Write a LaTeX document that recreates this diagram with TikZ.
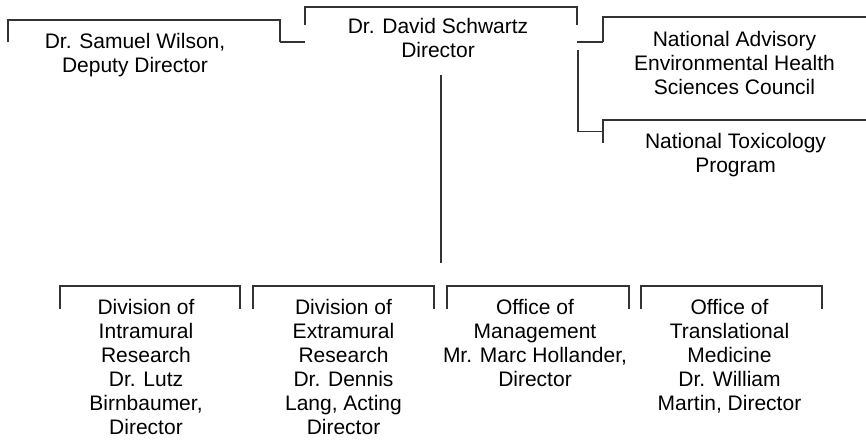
\documentclass[tikz,border=0pt]{standalone}
\usepackage{fontspec}
\setmainfont{Liberation Sans}
\usetikzlibrary{positioning}
\begin{document}
\begin{tikzpicture}[
        x=1pt, y=-1pt,
        line/.style={draw=black!80, line width=1.6pt},
        box/.style={minimum height=23pt, inner sep=0pt, outer sep=0pt, anchor=north west},
        orgtext/.style={align=center, inner sep=0pt, font=\fontsize{21}{24}\selectfont},
    ]
    \useasboundingbox (0,0) rectangle (866,440);
    % top row
    \node[box, minimum width=272pt, minimum height=22pt] (wilF) at (8,20) {};
    \node[box, minimum width=272pt, minimum height=18pt] (dirF) at (305,7) {};
    \node[box, minimum width=263pt, minimum height=25pt] (nacF) at (603,17) {};
    \node[box, minimum width=263pt] (ntpF) at (603,120) {};
    % bottom row
    \node[box, minimum width=180pt] (dirF1) at (60,286) {};
    \node[box, minimum width=181pt] (dirF2) at (253,286) {};
    \node[box, minimum width=182pt] (omF) at (447,286) {};
    \node[box, minimum width=181pt] (otmF) at (641,286) {};

    \node[orgtext, below=13pt of wilF.north, xshift=-9pt] (wil) {Dr. Samuel Wilson,\\Deputy Director};
    \node[orgtext, below=11pt of dirF.north, xshift=-3pt] (dir) {Dr. David Schwartz\\Director};
    \node[orgtext, below=14pt of nacF.north] (nac) {National Advisory\\Environmental Health\\Sciences Council};
    \node[orgtext, below=13pt of ntpF.north, xshift=1pt] (ntp) {National Toxicology\\Program};
    \node[orgtext, below=13pt of dirF1.north, xshift=-4pt] (dir1) {Division of\\Intramural\\Research\\Dr. Lutz\\Birnbaumer,\\Director};
    \node[orgtext, below=13pt of dirF2.north] (dir2) {Division of\\Extramural\\Research\\Dr. Dennis\\Lang, Acting\\Director};
    \node[orgtext, below=13pt of omF.north, xshift=-3pt] (om) {Office of\\Management\\Mr. Marc Hollander,\\Director};
    \node[orgtext, below=13pt of otmF.north, xshift=-2pt] (otm) {Office of\\Translational\\Medicine\\Dr. William\\Martin, Director};

    \coordinate (elb) at (578,50);
    \coordinate (dtop) at (441,75);
    \coordinate (dbot) at (441,263);

    % brackets
    \draw[line] (wilF.south west) |- (wilF.north east) -- (wilF.south east);
    \draw[line] (dirF.south west) |- (dirF.north east) -- (dirF.south east);
    \draw[line] (nacF.south west) |- (nacF.north east);
    \draw[line] (ntpF.south west) |- (ntpF.north east);
    \draw[line] (dirF1.south west) |- (dirF1.north east) -- (dirF1.south east);
    \draw[line] (dirF2.south west) |- (dirF2.north east) -- (dirF2.south east);
    \draw[line] (omF.south west) |- (omF.north east) -- (omF.south east);
    \draw[line] (otmF.south west) |- (otmF.north east) -- (otmF.south east);

    % links
    \draw[line] (wilF.south east) -- (wilF.south east -| dirF.west);
    \draw[line] (nacF.south west) -- (nacF.south west -| dirF.east);
    \draw[line] (elb) |- (ntpF.west);
    \draw[line] (dtop) -- (dbot);
\end{tikzpicture}
\end{document}
